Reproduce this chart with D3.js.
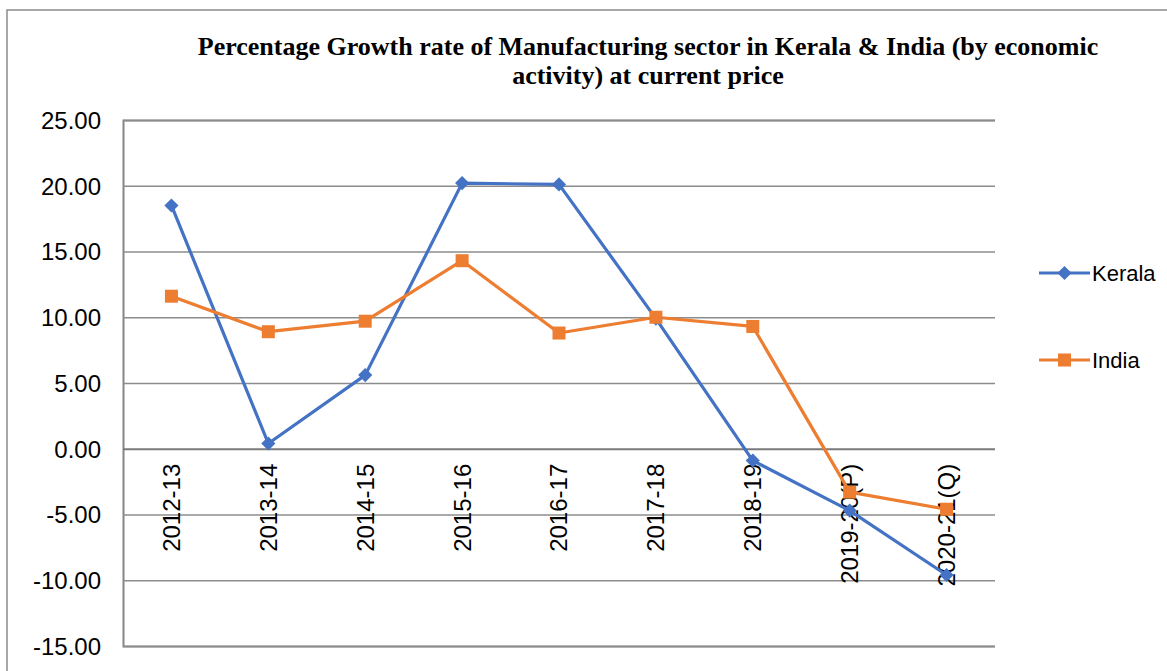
<!DOCTYPE html>
<html><head><meta charset="utf-8">
<script src="https://cdn.jsdelivr.net/npm/d3@7"></script>
<style>body{margin:0;background:#fff;}svg{display:block;}</style>
</head><body>
<svg id="c" width="1167" height="671"></svg>
<script>
const categories = ["2012-13","2013-14","2014-15","2015-16","2016-17","2017-18","2018-19","2019-20(P)","2020-21(Q)"];
const kerala = [18.5, 0.4, 5.6, 20.2, 20.1, 9.9, -0.9, -4.7, -9.6];
const india = [11.6, 8.9, 9.7, 14.3, 8.8, 10.0, 9.3, -3.3, -4.6];
const yTicks = [25, 20, 15, 10, 5, 0, -5, -10, -15];
const titleLines = ["Percentage Growth rate of Manufacturing sector in Kerala & India (by economic", "activity) at current price"];
const seriesNames = ["Kerala", "India"];
const colors = ["#4472C4", "#ED7D31"];

const svg = d3.select("#c");
const L = 123, R = 995, T = 120, B = 646;
const x = d3.scaleBand().domain(categories).range([L, R]);
const y = d3.scaleLinear().domain([-15, 25]).range([B, T]);
const fmt = d => d3.format(".2f")(d).replace("\u2212", "-");
const sans = "Liberation Sans, Arial, sans-serif";

// outer frame
svg.append("rect").attr("x", 7).attr("y", 10).attr("width", 1200).attr("height", 700)
  .attr("fill", "none").attr("stroke", "#8c8c8c").attr("stroke-width", 1.5);

// title
const title = svg.append("text").attr("text-anchor", "middle")
  .attr("font-family", "Liberation Serif, Times New Roman, serif").attr("font-weight", "bold")
  .attr("font-size", 26).attr("fill", "#000");
titleLines.forEach((t, i) => title.append("tspan").attr("x", 648).attr("y", 55 + i * 29).text(t));

// gridlines + y axis
const yAxis = d3.axisLeft(y).tickValues(yTicks).tickSize(-(R - L)).tickPadding(22).tickFormat(fmt);
const gy = svg.append("g").attr("transform", `translate(${L},0)`).call(yAxis);
gy.select(".domain").attr("stroke", "#868686").attr("stroke-width", 2);
gy.selectAll(".tick line").attr("stroke", "#8c8c8c").attr("stroke-width", 1.3);
gy.selectAll(".tick").filter(d => d === 0).select("line").attr("stroke", "#7a7a7a").attr("stroke-width", 2);
gy.selectAll(".tick text").attr("font-family", sans).attr("font-size", 24).attr("fill", "#000")
  .attr("dy", "0.35em");

// x labels (rotated, anchored near zero line)
const xAxis = d3.axisBottom(x).tickSize(0).tickPadding(0);
const gx = svg.append("g").attr("transform", `translate(0,${y(0)})`).call(xAxis);
gx.select(".domain").remove();
gx.selectAll(".tick text")
  .attr("font-family", sans).attr("font-size", 24).attr("fill", "#000")
  .attr("transform", "rotate(-90)").attr("text-anchor", "end")
  .attr("x", -15).attr("y", 0).attr("dy", "0.35em");

// lines
const data = [kerala, india];
const line = d3.line().x((d, i) => x(categories[i]) + x.bandwidth() / 2).y(d => y(d));
data.forEach((vals, s) => {
  svg.append("path").datum(vals).attr("d", line).attr("fill", "none")
    .attr("stroke", colors[s]).attr("stroke-width", 3.2).attr("stroke-linejoin", "round");
});
// markers
const diamondPath = d3.symbol().type(d3.symbolSquare).size(100);
const square = d3.symbol().type(d3.symbolSquare).size(169);
svg.append("g").selectAll("path").data(kerala).join("path")
  .attr("d", diamondPath)
  .attr("transform", (d, i) => `translate(${x(categories[i]) + x.bandwidth() / 2},${y(d)}) rotate(45)`)
  .attr("fill", colors[0]);
svg.append("g").selectAll("path").data(india).join("path")
  .attr("d", square)
  .attr("transform", (d, i) => `translate(${x(categories[i]) + x.bandwidth() / 2},${y(d)})`)
  .attr("fill", colors[1]);

// legend
const legY = [273, 360];
seriesNames.forEach((n, i) => {
  const g = svg.append("g").attr("transform", `translate(1039,${legY[i]})`);
  g.append("line").attr("x1", 0).attr("x2", 51).attr("stroke", colors[i]).attr("stroke-width", 3.2);
  if (i === 0) g.append("path").attr("d", diamondPath).attr("transform", "translate(25.5,0) rotate(45)").attr("fill", colors[i]);
  else g.append("path").attr("d", square).attr("transform", "translate(25.5,0)").attr("fill", colors[i]);
  g.append("text").attr("x", 53).attr("dy", "0.35em").attr("font-family", sans)
    .attr("font-size", 22).attr("fill", "#000").text(n);
});
</script>
</body></html>
